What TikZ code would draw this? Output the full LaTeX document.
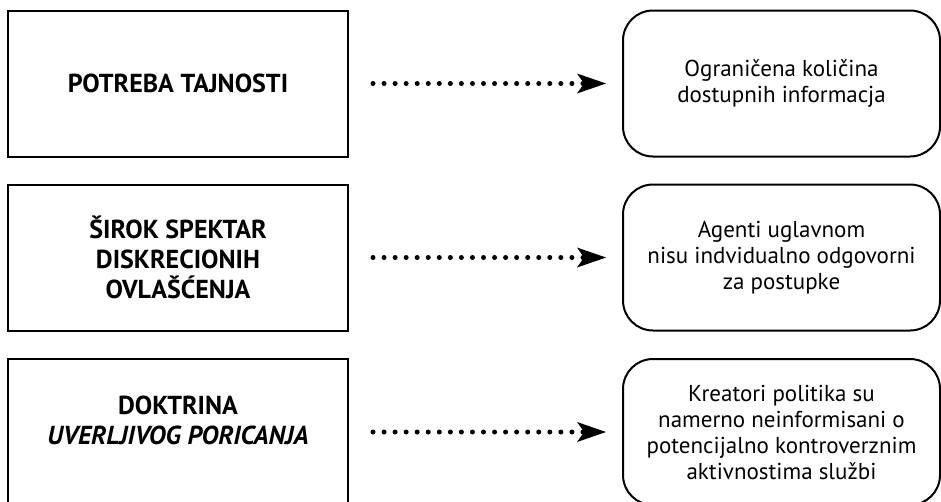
\documentclass[tikz,border=0pt]{standalone}
\usepackage{fontspec}
\setmainfont{PT Sans}
\usetikzlibrary{arrows.meta}

\tikzset{
  causebox/.style={draw, line width=2pt, minimum width=340pt, minimum height=146pt,
    align=center, font=\bfseries\fontsize{26}{30}\selectfont},
  effectbox/.style={draw, line width=2pt, rounded corners=30pt, minimum width=317pt,
    minimum height=146pt, align=center, font=\fontsize{23}{26}\selectfont},
  dotarrow/.style={line width=5pt, line cap=round, dash pattern=on 0pt off 11.05pt,
    shorten <=24pt, shorten >=16pt,
    -{Stealth[length=29pt,width=20pt,inset=7pt,line width=0pt]}}
}

\begin{document}
\begin{tikzpicture}[x=1pt,y=-1pt]

\useasboundingbox (0,0) rectangle (941,501) ;
\clip (0,0) rectangle (941,501) ;

% causes
\node[causebox] (cause1) at (178,83.5) {POTREBA TAJNOSTI} ;
\node[causebox] (cause2) at (178,257.5) {ŠIROK SPEKTAR\\DISKRECIONIH\\OVLAŠĆENJA} ;
\node[causebox, text depth=24pt] (cause3) at (178,432) {DOKTRINA\\\textit{UVERLJIVOG PORICANJA}} ;

% effects
\node[effectbox] (effect1) at (781.5,83.5) {Ograničena količina\\dostupnih informacja} ;
\node[effectbox] (effect2) at (781.5,257.5) {Agenti uglavnom\\nisu indvidualno odgovorni\\za postupke} ;
\node[effectbox] (effect3) at (781.5,432) {Kreatori politika su\\namerno neinformisani o\\potencijalno kontroverznim\\aktivnostima službi} ;

\draw[dotarrow] (cause1) -- (effect1) ;
\draw[dotarrow] (cause2) -- (effect2) ;
\draw[dotarrow] (cause3) -- (effect3) ;

\end{tikzpicture}
\end{document}
